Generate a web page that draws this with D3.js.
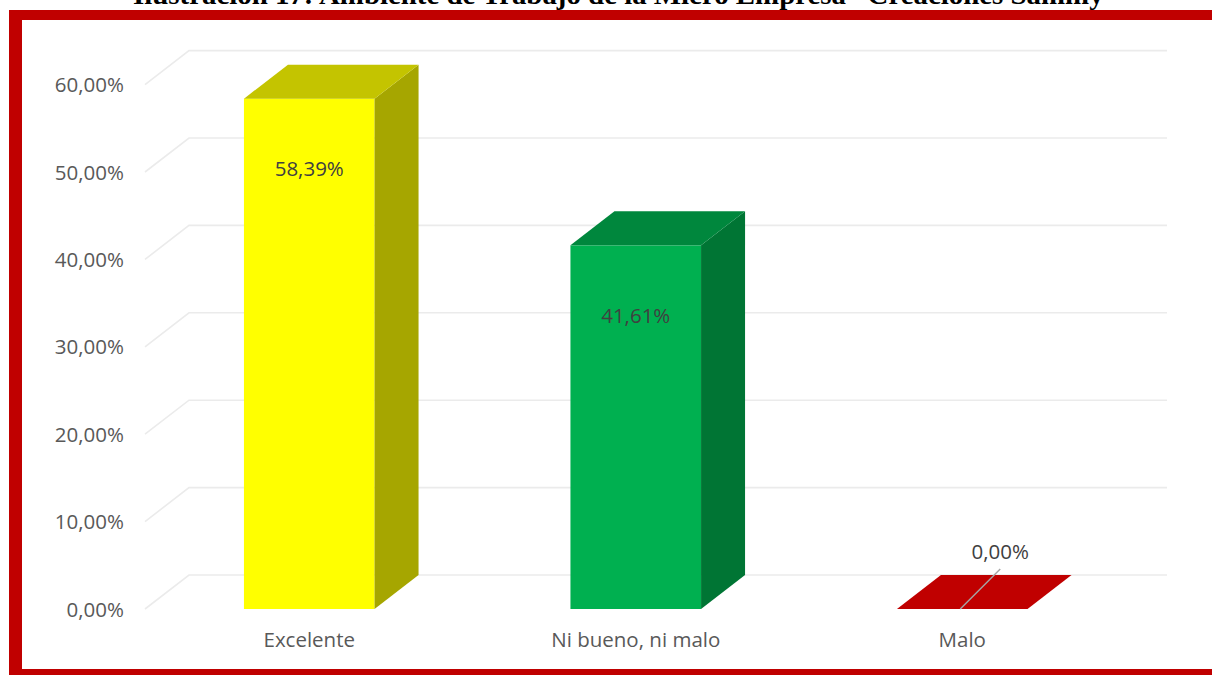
<!DOCTYPE html>
<html>
<head>
<meta charset="utf-8">
<script src="https://cdn.jsdelivr.net/npm/d3@7"></script>
<style>
  html, body { margin: 0; padding: 0; background: #ffffff; }
  svg { display: block; }
</style>
</head>
<body>
<svg id="chart" width="1212" height="675"></svg>
<script>
// Survey results: work environment rating
const categories = ["Excelente", "Ni bueno, ni malo", "Malo"];
const values = [58.39, 41.61, 0.00];
const tickValues = [0, 10, 20, 30, 40, 50, 60];
const frontColors = ["#FFFF00", "#00B050", "#C00000"];
const topColors = ["#C4C400", "#00873D", "#C00000"];
const sideColors = ["#A6A600", "#007534", "#A00000"];
const titleText = "Ilustración 17: Ambiente de Trabajo de la Micro Empresa \u201CCreaciones Sammy\u201D";

const svg = d3.select("#chart");
const fmt = v => d3.format(".2f")(v).replace(".", ",") + "%";

// 3D depth offset of the back wall
const depthX = 44, depthY = 34;

const x = d3.scaleBand()
  .domain(categories)
  .range([146, 1125.5])
  .paddingInner(0.6)
  .paddingOuter(0.3);

// front-plane y scale
const y = d3.scaleLinear().domain([0, 60]).range([609, 84.6]);

// Title (partly above the page)
svg.append("text")
  .attr("x", 625.5)
  .attr("y", 4)
  .attr("text-anchor", "middle")
  .attr("font-family", "'Liberation Serif', 'Times New Roman', serif")
  .attr("font-weight", "bold")
  .attr("font-size", 27)
  .attr("textLength", 985)
  .attr("lengthAdjust", "spacingAndGlyphs")
  .attr("fill", "#000")
  .text(titleText);

// Gridlines: side wall diagonal + back wall horizontal
const grid = svg.append("g").attr("stroke", "#EBEBEB").attr("stroke-width", 1.6).attr("fill", "none");
tickValues.forEach(t => {
  const yf = y(t);
  grid.append("path")
    .attr("d", `M${145},${yf} L${145 + depthX},${yf - depthY} L${1167},${yf - depthY}`);
});

// Y tick labels
const yAxis = d3.axisLeft(y).tickValues(tickValues).tickFormat(d => fmt(d)).tickSize(0).tickPadding(0);
const yg = svg.append("g").attr("transform", "translate(124,0)").call(yAxis);
yg.select(".domain").remove();
yg.selectAll("text")
  .attr("font-family", "'Open Sans', sans-serif")
  .attr("font-size", 20.5)
  .attr("fill", "#595959")
  .attr("dy", "0.35em");

// Bars
const bars = svg.append("g");
categories.forEach((c, i) => {
  const x0 = x(c), bw = x.bandwidth();
  const yTop = y(values[i]), yBot = y(0);
  const g = bars.append("g");
  if (values[i] > 0) {
    g.append("rect")
      .attr("x", x0).attr("y", yTop)
      .attr("width", bw).attr("height", yBot - yTop)
      .attr("fill", frontColors[i]);
    g.append("path")
      .attr("d", `M${x0 + bw},${yTop} L${x0 + bw + depthX},${yTop - depthY} L${x0 + bw + depthX},${yBot - depthY} L${x0 + bw},${yBot} Z`)
      .attr("fill", sideColors[i]);
  }
  g.append("path")
    .attr("d", `M${x0},${yTop} L${x0 + depthX},${yTop - depthY} L${x0 + bw + depthX},${yTop - depthY} L${x0 + bw},${yTop} Z`)
    .attr("fill", topColors[i]);
});

// Data labels
const labels = svg.append("g")
  .attr("font-family", "'Open Sans', sans-serif")
  .attr("font-size", 20.5)
  .attr("fill", "#404040")
  .attr("text-anchor", "middle");
categories.forEach((c, i) => {
  const cx = x(c) + x.bandwidth() / 2;
  if (values[i] > 0) {
    labels.append("text")
      .attr("x", cx)
      .attr("y", y(values[i]) + 70)
      .attr("dy", "0.35em")
      .text(fmt(values[i]));
  } else {
    const ly = y(values[i]);
    svg.append("line")
      .attr("x1", cx - 2).attr("y1", ly)
      .attr("x2", cx + 38).attr("y2", ly - 40)
      .attr("stroke", "#A6A6A6").attr("stroke-width", 1.5);
    labels.append("text")
      .attr("x", cx + 38)
      .attr("y", ly - 57)
      .attr("dy", "0.35em")
      .text(fmt(values[i]));
  }
});

// Category labels
const xAxis = d3.axisBottom(x).tickSize(0).tickPadding(0);
const xg = svg.append("g").attr("transform", "translate(0,640)").call(xAxis);
xg.select(".domain").remove();
xg.selectAll("text")
  .attr("font-family", "'Open Sans', sans-serif")
  .attr("font-size", 20.5)
  .attr("fill", "#595959")
  .attr("dy", "0.35em")
  .attr("y", 0);

// Red frame
const frame = svg.append("g").attr("fill", "#C00000");
frame.append("rect").attr("x", 9).attr("y", 10).attr("width", 1210).attr("height", 10);
frame.append("rect").attr("x", 9).attr("y", 10).attr("width", 13).attr("height", 670);
frame.append("rect").attr("x", 9).attr("y", 669).attr("width", 1210).attr("height", 10);
</script>
</body>
</html>
